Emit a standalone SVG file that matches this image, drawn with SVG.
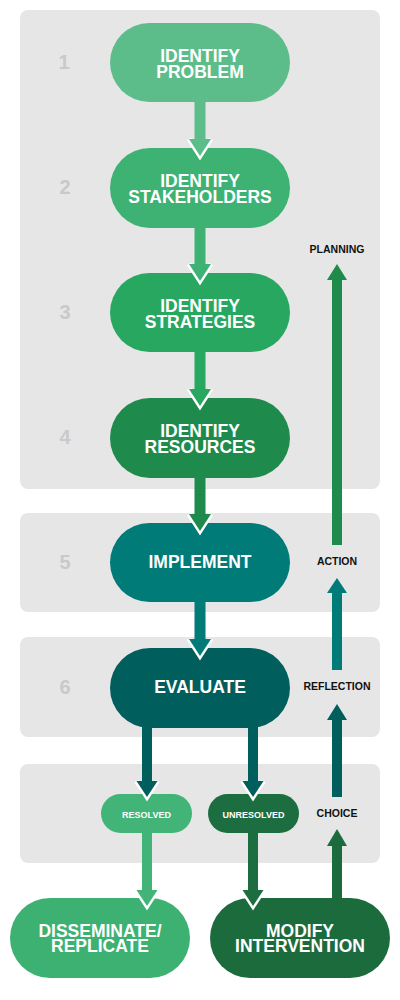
<svg xmlns="http://www.w3.org/2000/svg" width="400" height="1000" viewBox="0 0 400 1000">
<style>
.panel{fill:#e6e6e6}
.t{font-family:"Liberation Sans",Arial,sans-serif;font-weight:bold;fill:#fff;text-anchor:middle;font-size:17.5px}
.ts{font-family:"Liberation Sans",Arial,sans-serif;font-weight:bold;fill:#fff;text-anchor:middle;font-size:9px}
.num{font-family:"Liberation Sans",Arial,sans-serif;font-weight:bold;fill:#c9c9c9;text-anchor:middle;font-size:20px}
.lbl{font-family:"Liberation Sans",Arial,sans-serif;font-weight:bold;fill:#111;text-anchor:middle;font-size:10.5px}
.hd{stroke:#fff;stroke-width:5;paint-order:stroke;stroke-linejoin:miter}
</style>
<rect width="400" height="1000" fill="#fff"/>
<g id="panels">
<rect class="panel" x="20" y="10" width="360" height="479" rx="8"/>
<rect class="panel" x="20" y="513" width="360" height="99" rx="8"/>
<rect class="panel" x="20" y="637" width="360" height="100" rx="8"/>
<rect class="panel" x="20" y="764" width="360" height="99" rx="8"/>
</g>
<g id="numbers">
<text class="num" x="64" y="69">1</text>
<text class="num" x="65" y="194">2</text>
<text class="num" x="65" y="319">3</text>
<text class="num" x="65" y="444">4</text>
<text class="num" x="65" y="569">5</text>
<text class="num" x="65" y="694">6</text>
</g>
<g id="labels">
<text class="lbl" x="337" y="253">PLANNING</text>
<text class="lbl" x="337" y="565">ACTION</text>
<text class="lbl" x="337" y="690">REFLECTION</text>
<text class="lbl" x="337" y="817">CHOICE</text>
</g>
<g id="n1"><rect x="110" y="23" width="180" height="79" rx="39.5" fill="#5cbd8a"/><text class="t"><tspan x="200" y="62">IDENTIFY</tspan><tspan x="200" y="78">PROBLEM</tspan></text></g>
<g id="n2"><rect x="110" y="148" width="180" height="80" rx="40" fill="#3db273"/><text class="t"><tspan x="200" y="187">IDENTIFY</tspan><tspan x="200" y="203">STAKEHOLDERS</tspan></text></g>
<g id="n3"><rect x="110" y="273" width="180" height="79" rx="39.5" fill="#27a760"/><text class="t"><tspan x="200" y="312">IDENTIFY</tspan><tspan x="200" y="328">STRATEGIES</tspan></text></g>
<g id="n4"><rect x="110" y="398" width="180" height="80" rx="40" fill="#1e8b4c"/><text class="t"><tspan x="200" y="437">IDENTIFY</tspan><tspan x="200" y="453">RESOURCES</tspan></text></g>
<g id="n5"><rect x="110" y="523" width="180" height="79" rx="39.5" fill="#007b78"/><text class="t" x="200" y="568">IMPLEMENT</text></g>
<g id="n6"><rect x="110" y="648" width="180" height="80" rx="40" fill="#005e5c"/><text class="t" x="200" y="693">EVALUATE</text></g>
<g id="resolved"><rect x="101" y="794" width="91" height="39" rx="19.5" fill="#42b477"/><text class="ts" x="146.5" y="817.5">RESOLVED</text></g>
<g id="unresolved"><rect x="208" y="794" width="91" height="39" rx="19.5" fill="#1c6e40"/><text class="ts" x="253.5" y="817.5">UNRESOLVED</text></g>
<g id="disseminate"><rect x="10" y="898" width="180" height="80" rx="40" fill="#3cb172"/><text class="t"><tspan x="100" y="937">DISSEMINATE/</tspan><tspan x="100" y="952">REPLICATE</tspan></text></g>
<g id="modify"><rect x="210" y="898" width="180" height="80" rx="40" fill="#1b6b3d"/><text class="t"><tspan x="300" y="937">MODIFY</tspan><tspan x="300" y="952">INTERVENTION</tspan></text></g>
<g id="connectors">
<g fill="#5cbd8a"><rect x="194.5" y="101" width="11" height="39"/><path class="hd" d="M189,139 L200,156 L211,139"/></g>
<g fill="#3db273"><rect x="194.5" y="227" width="11" height="38"/><path class="hd" d="M189,264 L200,281 L211,264"/></g>
<g fill="#27a760"><rect x="194.5" y="351" width="11" height="39"/><path class="hd" d="M189,389 L200,406 L211,389"/></g>
<g fill="#1e8b4c"><rect x="194.5" y="477" width="11" height="38"/><path class="hd" d="M189,514 L200,531 L211,514"/></g>
<g fill="#007b78"><rect x="194.5" y="601" width="11" height="39"/><path class="hd" d="M189,639 L200,656 L211,639"/></g>
<g fill="#005e5c"><rect x="142" y="727" width="10" height="55"/><path class="hd" d="M136.5,781 L147,797 L157.5,781"/></g>
<g fill="#005e5c"><rect x="248" y="727" width="10" height="55"/><path class="hd" d="M242.5,781 L253,797 L263.5,781"/></g>
<g fill="#42b477"><rect x="142" y="832" width="10" height="59"/><path class="hd" d="M136.5,890 L147,906 L157.5,890"/></g>
<g fill="#1c6e40"><rect x="248" y="832" width="10" height="59"/><path class="hd" d="M242.5,890 L253,906 L263.5,890"/></g>
<g fill="#1b6b3d"><rect x="332" y="845" width="10" height="55"/><path d="M327,846 L337,829 L347,846 Z"/></g>
<g fill="#005e5c"><rect x="332" y="719" width="10" height="78"/><path d="M327,720 L337,704 L347,720 Z"/></g>
<g fill="#007b78"><rect x="332" y="592" width="10" height="78"/><path d="M327,593 L337,578 L347,593 Z"/></g>
<g fill="#1e8b4c"><rect x="332" y="279" width="10" height="266"/><path d="M327,280 L337,264 L347,280 Z"/></g>
</g>
</svg>
